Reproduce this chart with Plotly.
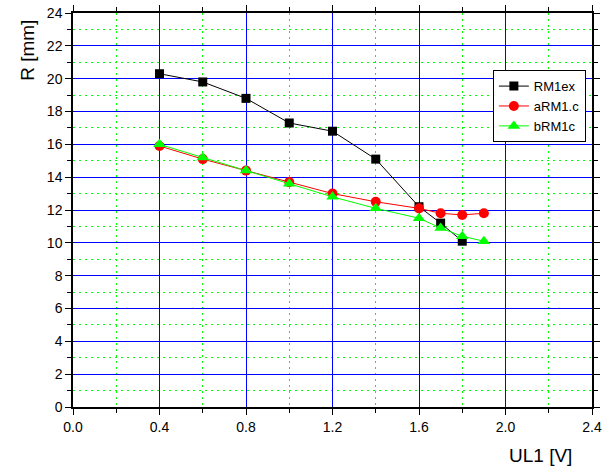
import plotly.graph_objects as go

x_ex = [0.4, 0.6, 0.8, 1.0, 1.2, 1.4, 1.6, 1.7, 1.8]
y_ex = [20.3, 19.8, 18.8, 17.3, 16.8, 15.1, 12.2, 11.2, 10.1]
x_a = [0.4, 0.6, 0.8, 1.0, 1.2, 1.4, 1.6, 1.7, 1.8, 1.9]
y_a = [15.9, 15.1, 14.4, 13.7, 13.0, 12.5, 12.1, 11.8, 11.7, 11.8]
x_b = [0.4, 0.6, 0.8, 1.0, 1.2, 1.4, 1.6, 1.7, 1.8, 1.9]
y_b = [16.0, 15.2, 14.4, 13.6, 12.8, 12.1, 11.5, 10.9, 10.4, 10.1]

FONT = "Liberation Sans, Arial"

fig = go.Figure()
fig.add_trace(go.Scatter(x=x_ex, y=y_ex, name="RM1ex", mode="lines+markers",
                         line=dict(color="black", width=1),
                         marker=dict(symbol="square", size=9, color="black")))
fig.add_trace(go.Scatter(x=x_a, y=y_a, name="aRM1.c", mode="lines+markers",
                         line=dict(color="red", width=1),
                         marker=dict(symbol="circle", size=10, color="red")))
fig.add_trace(go.Scatter(x=x_b, y=y_b, name="bRM1c", mode="lines+markers",
                         line=dict(color="#00ff00", width=1),
                         marker=dict(symbol="triangle-up", size=11, color="#00ff00")))

axis_common = dict(
    showline=True, linecolor="black", linewidth=1.5, mirror="allticks",
    ticks="outside", ticklen=6, tickcolor="black", tickwidth=1,
    showgrid=True, gridcolor="#0000ff", gridwidth=1, zeroline=False,
    automargin=False, ticklabeloverflow="allow",
    tickfont=dict(family=FONT, size=14, color="black"),
)
minor_common = dict(showgrid=True, gridcolor="#00ff00", griddash="2px,4px",
                    gridwidth=1, ticks="outside", ticklen=4, tickcolor="black")

fig.update_layout(
    width=613, height=468,
    margin=dict(l=73, r=21, t=13, b=61),
    paper_bgcolor="white", plot_bgcolor="white",
    xaxis=dict(range=[0, 2.4], dtick=0.4, tick0=0, tickformat=".1f",
               minor=dict(dtick=0.2, **minor_common), **axis_common),
    yaxis=dict(range=[0, 24], dtick=2, tick0=0,
               minor=dict(dtick=1, **minor_common), **axis_common),
    legend=dict(x=0.809, y=0.855, xanchor="left", yanchor="top",
                bgcolor="white", bordercolor="black", borderwidth=1,
                font=dict(family=FONT, size=13, color="black"),
                tracegroupgap=0, itemwidth=30),
    showlegend=True,
    annotations=[
        dict(text="UL1 [V]", xref="paper", yref="paper", x=0.90, y=-0.122,
             xanchor="center", yanchor="middle", showarrow=False,
             font=dict(family=FONT, size=19, color="black")),
        dict(text="R [mm]", xref="paper", yref="paper", x=-0.089, y=0.906,
             xanchor="center", yanchor="middle", showarrow=False, textangle=-90,
             font=dict(family=FONT, size=19, color="black")),
    ],
)

fig.write_html("out.html", config={"displayModeBar": False},
               post_script="document.body.style.margin='0';")
